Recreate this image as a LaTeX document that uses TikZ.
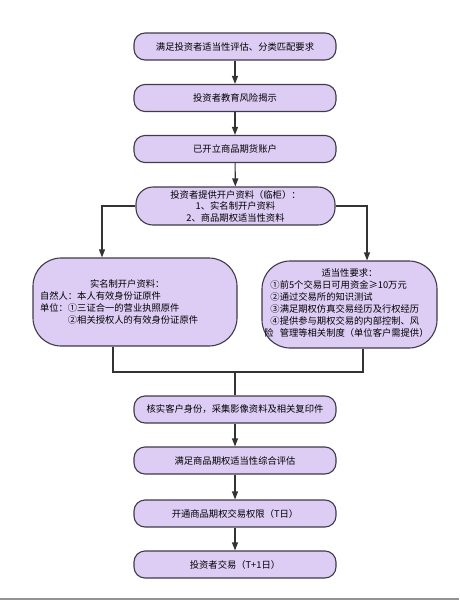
\documentclass[tikz,border=0pt]{standalone}
\usepackage{fontspec}
\setmainfont{Noto Sans CJK SC}
\usetikzlibrary{arrows.meta,positioning}
\definecolor{Lav}{HTML}{DDCDF5}
\definecolor{Edge}{HTML}{3F3B4A}

\begin{document}
\begin{tikzpicture}[x=1pt,y=-1pt,
  box/.style={draw=Edge,fill=Lav,line width=1.1pt,rounded corners=11pt,minimum width=202pt,minimum height=27pt,inner sep=0pt,font=\fontsize{9.3}{12}\selectfont},
  bigbox/.style={box,rounded corners=28pt},
  arr/.style={-{Triangle[length=8pt,width=6pt]},line width=1.1pt,draw=black!80},
  link/.style={line width=1.1pt,draw=black!80}]
  \useasboundingbox (0,0) rectangle (459,600);
  % main column
  \node[box] (suit) at (235,46.5) {满足投资者适当性评估、分类匹配要求};
  \node[box] (edu) at (235,98) {投资者教育风险揭示};
  \node[box] (acct) at (235,149) {已开立商品期货账户};
  \node[box,minimum width=199pt,minimum height=38pt,rounded corners=17pt,align=center,font=\fontsize{9.3}{11.5}\selectfont] (docs) at (235.5,206) {投资者提供开户资料（临柜）：\\1、实名制开户资料\\2、商品期权适当性资料};
  % two kinds of documents
  \node[bigbox,minimum width=204pt,minimum height=88pt,text width=190pt,align=left] (real) at (135,302) {\hspace*{50pt}实名制开户资料：\\自然人：本人有效身份证原件\\单位：①三证合一的营业执照原件\\\phantom{单位：}②相关授权人的有效身份证原件};
  \node[bigbox,minimum width=175pt,minimum height=87pt] (req) at (349.5,304.5) {\raisebox{6pt}{\begin{tabular}{@{}l@{}}\multicolumn{1}{@{}c@{}}{适当性要求：}\\①前5个交易日可用资金≥10万元\\②通过交易所的知识测试\\③满足期权仿真交易经历及行权经历\\④提供参与期权交易的内部控制、风\\\hspace*{-6pt}险\hspace{6pt}管理等相关制度（单位客户需提供）\end{tabular}}};
  \node[box] (verify) at (235,409.5) {核实客户身份，采集影像资料及相关复印件};
  \node[box] (eval) at (235,460.5) {满足商品期权适当性综合评估};
  \node[box] (open) at (235,513.5) {开通商品期权交易权限（T日）};
  \node[box] (trade) at (235,564.5) {投资者交易（T+1日）};
  \coordinate (join) at (235,372);

  \draw[arr] (suit) -- (edu);
  \draw[arr] (edu) -- (acct);
  \draw[arr] (acct) -- (docs);
  \draw[arr] (docs.west) -| ([xshift=-33pt]real.north);
  \draw[arr] (docs.east) -| ([xshift=17.5pt]req.north);
  \draw[link] ([xshift=-22pt]real.south) |- (join) -| ([xshift=13.5pt]req.south);
  \draw[link] (join) -- (verify);
  \draw[arr] (verify) -- (eval);
  \draw[arr] (eval) -- (open);
  \draw[arr] (open) -- (trade);

  \draw[gray!85,line width=2pt] (0,598.5) -- (459,598.5);
\end{tikzpicture}
\end{document}
